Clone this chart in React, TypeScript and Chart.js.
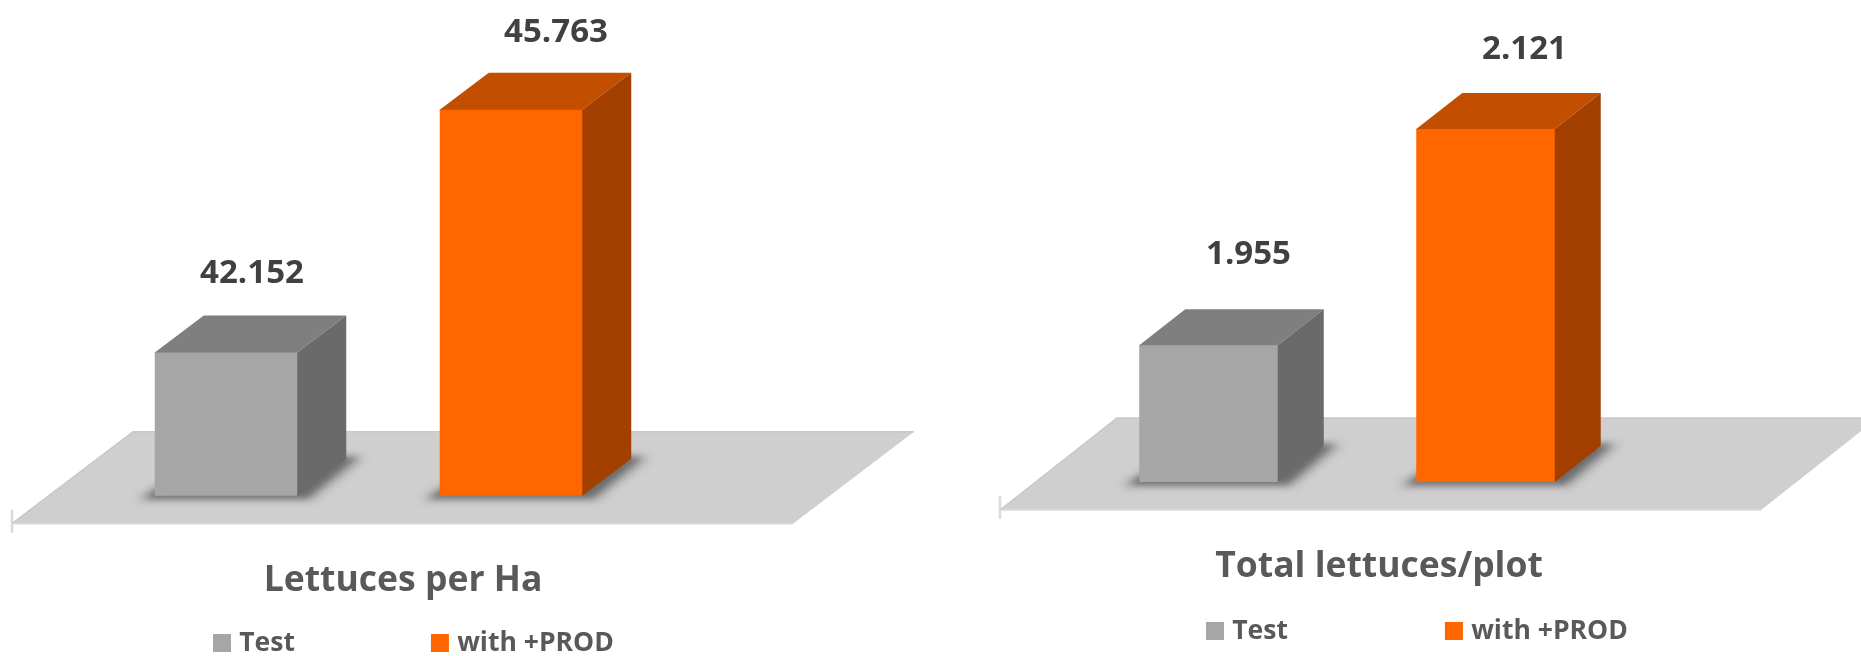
import React, { useEffect, useRef } from "react";
import { Chart, registerables } from "chart.js";

Chart.register(...registerables);

const seriesNames = ["Test", "with +PROD"];
const seriesColors = ["#A6A6A6", "#FF6600"];
const topColors = ["#7F7F7F", "#C24E00"];
const sideColors = ["#6A6A6A", "#A34000"];

const leftCategory = ["Lettuces per Ha"];
const leftTest = [42152];
const leftProd = [45763];

const rightCategory = ["Total lettuces/plot"];
const rightTest = [1955];
const rightProd = [2121];

const FONT = '"Open Sans", sans-serif';
const TITLE_SIZE = 35.5;

const depthPlugin = {
  id: "depth",
  afterLayout(chart: any) {
    const o = chart.options.plugins.depth;
    const t = chart.titleBlock;
    const w = t.right - t.left;
    t.left = o.titleCx - w / 2;
    t.right = t.left + w;
    t.top = o.titleCy - TITLE_SIZE * 0.6;
    t.bottom = t.top + TITLE_SIZE * 1.2;
    const l = chart.legend;
    const pad = l.options.labels.padding;
    l.left = o.legendX + 5 - pad;
    l.right = l.left + 3000;
    l.top = o.legendCy - pad - l.options.labels.font.size / 2;
    l.bottom = o.legendCy + 30;
  },
  beforeDatasetsDraw(chart: any) {
    const o = chart.options.plugins.depth;
    const { ctx, chartArea: a } = chart;
    const fl = a.left - o.floorLeft;
    const fr = a.right + o.floorRight;
    const fb = a.bottom + 28;
    const bk = a.bottom - 64;
    ctx.save();
    // axis tick
    ctx.strokeStyle = "#DADADA";
    ctx.lineWidth = 2.5;
    ctx.beginPath();
    ctx.moveTo(fl, fb - 14);
    ctx.lineTo(fl, fb + 9);
    ctx.stroke();
    // floor
    ctx.beginPath();
    ctx.moveTo(fl, fb);
    ctx.lineTo(fr, fb);
    ctx.lineTo(fr + o.floorDx, bk);
    ctx.lineTo(fl + o.floorDx, bk);
    ctx.closePath();
    ctx.fillStyle = "#CFCFCF";
    ctx.fill();
    ctx.strokeStyle = "#C8C8C8";
    ctx.lineWidth = 1.5;
    ctx.beginPath();
    ctx.moveTo(fl, fb);
    ctx.lineTo(fl + o.floorDx, bk);
    ctx.lineTo(fr + o.floorDx, bk);
    ctx.stroke();
    ctx.strokeStyle = "#DADADA";
    ctx.beginPath();
    ctx.moveTo(fl, fb);
    ctx.lineTo(fr, fb);
    ctx.stroke();
    ctx.restore();

    chart.data.datasets.forEach((_: any, i: number) => {
      const bar = chart.getDatasetMeta(i).data[0];
      const x0 = bar.x - bar.width / 2;
      const x1 = bar.x + bar.width / 2;
      const top = bar.y;
      const base = a.bottom;
      const dx = o.dx;
      const dy = o.dy;
      ctx.save();
      // soft contact shadow: a wide faint band and a tighter darker one
      const band = (spread: number, below: number, blur: number, alpha: number) => {
        ctx.filter = `blur(${blur}px)`;
        ctx.fillStyle = `rgba(0,0,0,${alpha})`;
        ctx.beginPath();
        ctx.moveTo(x0 - spread, base + below);
        ctx.lineTo(x1 + spread * 0.8, base + below);
        ctx.lineTo(x1 + dx + spread, base + dy - 2);
        ctx.lineTo(x0 + dx, base + dy - 2);
        ctx.closePath();
        ctx.fill();
      };
      band(20, 4, 4, 0.22);
      band(11, 3, 3, 0.32);
      ctx.restore();
      // top face
      ctx.fillStyle = topColors[i];
      ctx.beginPath();
      ctx.moveTo(x0, top + 1);
      ctx.lineTo(x0, top);
      ctx.lineTo(x0 + dx, top + dy);
      ctx.lineTo(x1 + dx, top + dy);
      ctx.lineTo(x1, top);
      ctx.lineTo(x1, top + 1);
      ctx.closePath();
      ctx.fill();
      // side face
      ctx.fillStyle = sideColors[i];
      ctx.beginPath();
      ctx.moveTo(x1 - 1, top);
      ctx.lineTo(x1, top);
      ctx.lineTo(x1 + dx, top + dy);
      ctx.lineTo(x1 + dx, base + dy);
      ctx.lineTo(x1, base);
      ctx.lineTo(x1 - 1, base);
      ctx.closePath();
      ctx.fill();
    });
  },
  afterDatasetsDraw(chart: any) {
    const o = chart.options.plugins.depth;
    const { ctx } = chart;
    ctx.save();
    ctx.font = `bold 33px ${FONT}`;
    ctx.fillStyle = "#404040";
    ctx.textAlign = "center";
    ctx.textBaseline = "middle";
    chart.data.datasets.forEach((ds: any, i: number) => {
      const bar = chart.getDatasetMeta(i).data[0];
      const text = ds.data[0].toLocaleString("de-DE");
      ctx.fillText(text, bar.x + o.labelDx[i], bar.y + o.dy + o.labelDy[i]);
    });
    ctx.restore();
  },
};

function makeConfig(
  category: string[],
  test: number[],
  prod: number[],
  yMin: number,
  yMax: number,
  pad: any,
  legendGap: number,
  depth: any
): any {
  return {
    type: "bar",
    data: {
      labels: category,
      datasets: [
        { label: seriesNames[0], data: test, backgroundColor: seriesColors[0], barPercentage: 0.5, categoryPercentage: 1 },
        { label: seriesNames[1], data: prod, backgroundColor: seriesColors[1], barPercentage: 0.5, categoryPercentage: 1 },
      ],
    },
    options: {
      responsive: false,
      animation: false,
      layout: { padding: pad },
      scales: {
        x: { display: false },
        y: { display: false, min: yMin, max: yMax },
      },
      plugins: {
        tooltip: { enabled: false },
        depth,
        title: {
          display: true,
          text: category[0],
          position: "bottom",
          weight: 500,
          padding: 0,
          color: "#595959",
          font: { family: FONT, size: TITLE_SIZE, weight: "bold", lineHeight: 1.2 },
        },
        legend: {
          display: true,
          position: "bottom",
          align: "start",
          weight: 1000,
          maxHeight: 40,
          labels: {
            boxWidth: 8,
            boxHeight: 8,
            padding: legendGap,
            color: "#595959",
            font: { family: FONT, size: 26.5, weight: "bold" },
            generateLabels: (chart: any) =>
              chart.data.datasets.map((d: any, i: number) => ({
                text: d.label,
                fillStyle: d.backgroundColor,
                strokeStyle: d.backgroundColor,
                fontColor: "#595959",
                lineWidth: 10,
                hidden: false,
                datasetIndex: i,
              })),
          },
        },
      },
    },
    plugins: [depthPlugin],
  };
}

export default function App() {
  const leftRef = useRef<HTMLCanvasElement>(null);
  const rightRef = useRef<HTMLCanvasElement>(null);

  useEffect(() => {
    const left = new Chart(
      leftRef.current as any,
      makeConfig(
        leftCategory,
        leftTest,
        leftProd,
        40020,
        46990,
        { left: 83.5, right: 276.5, top: 27.2, bottom: 77.7 },
        141,
        {
          dx: 49,
          dy: -37,
          floorLeft: 71.5,
          floorRight: 139.5,
          floorDx: 121,
          labelDx: [26, 45],
          labelDy: [-42, -40],
          titleCx: 403,
          titleCy: 581,
          legendX: 213,
          legendCy: 643,
        }
      )
    );
    const right = new Chart(
      rightRef.current as any,
      makeConfig(
        rightCategory,
        rightTest,
        rightProd,
        1850,
        2200,
        { left: 190, right: 237, top: 26, bottom: 91.4 },
        162,
        {
          dx: 46,
          dy: -36,
          floorLeft: 70,
          floorRight: 137,
          floorDx: 117,
          labelDx: [40, 39],
          labelDy: [-55, -43],
          titleCx: 499,
          titleCy: 567,
          legendX: 326,
          legendCy: 631,
        }
      )
    );
    return () => {
      left.destroy();
      right.destroy();
    };
  }, []);

  return (
    <div style={{ position: "fixed", left: 0, top: 0, width: 1861, height: 656, overflow: "hidden", background: "#fff" }}>
      <canvas ref={leftRef} width={930} height={656} style={{ position: "absolute", left: 0, top: 0 }} />
      <canvas ref={rightRef} width={981} height={656} style={{ position: "absolute", left: 880, top: 0 }} />
    </div>
  );
}
